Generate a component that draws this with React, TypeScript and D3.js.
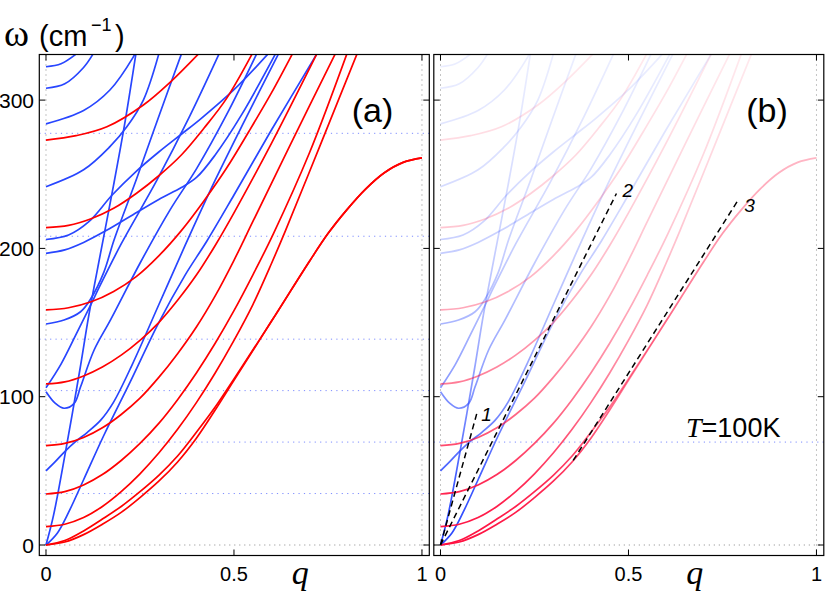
import React from 'react';
import * as d3 from 'd3';

type Pt = [number, number];

// branches, [q, omega (cm^-1)]
// red branches
const redAc1: Pt[] = [[0, 0], [0.05, 2], [0.1, 7], [0.15, 14], [0.2, 22], [0.25, 32], [0.3, 43], [0.35, 56], [0.4, 72], [0.45, 91], [0.5, 111], [0.6, 151], [0.7, 191], [0.75, 210], [0.8, 226], [0.85, 240], [0.9, 251], [0.95, 258], [1, 261]];
const redAc2: Pt[] = [[0, 0], [0.05, 3], [0.1, 9.5], [0.15, 17.5], [0.2, 26], [0.25, 36], [0.3, 47], [0.35, 60], [0.4, 76], [0.45, 93], [0.5, 112], [0.6, 151], [0.7, 191], [0.75, 210], [0.8, 226], [0.85, 240], [0.9, 251], [0.95, 258], [1, 261]];
const red12: Pt[] = [[0, 12.4], [0.05, 14], [0.1, 18.5], [0.15, 26], [0.2, 36], [0.25, 48], [0.3, 62], [0.35, 78], [0.4, 96], [0.45, 116], [0.5, 138], [0.55, 162], [0.6, 190], [0.637, 212], [0.73, 270], [0.827, 331]];
const red34: Pt[] = [[0, 34.4], [0.05, 36], [0.1, 40.5], [0.15, 47.5], [0.2, 57], [0.25, 68.5], [0.3, 82], [0.35, 98], [0.4, 116], [0.45, 136], [0.5, 158], [0.55, 182], [0.605, 210], [0.7, 264], [0.8, 331]];
const red67: Pt[] = [[0, 67], [0.05, 68.5], [0.1, 72.5], [0.15, 79], [0.2, 88], [0.25, 99], [0.3, 113], [0.35, 129], [0.4, 147], [0.45, 168], [0.5, 192], [0.55, 218], [0.65, 270], [0.769, 331]];
const red109: Pt[] = [[0, 108.6], [0.05, 110], [0.1, 114], [0.15, 120], [0.2, 128], [0.25, 138], [0.3, 150], [0.35, 165], [0.4, 182], [0.45, 202], [0.5, 224], [0.6, 271], [0.72, 331]];
const red158: Pt[] = [[0, 158.5], [0.06, 160], [0.12, 164], [0.18, 171], [0.24, 181], [0.3, 195], [0.36, 212], [0.42, 232], [0.48, 254], [0.54, 279], [0.6, 305], [0.655, 331]];
const red214: Pt[] = [[0, 214], [0.06, 215.5], [0.12, 220], [0.18, 227], [0.24, 237], [0.3, 249], [0.36, 263], [0.42, 281], [0.48, 301], [0.548, 331]];
const red273: Pt[] = [[0, 273], [0.08, 276], [0.162, 282], [0.259, 296.7], [0.33, 312], [0.405, 331]];

// blue branches
const blue322: Pt[] = [[0, 322.5], [0.04, 324.5], [0.08, 331]];
const blue308: Pt[] = [[0, 308], [0.05, 311], [0.1, 322], [0.125, 331]];
const blue284: Pt[] = [[0, 284], [0.1, 293], [0.17, 306.8], [0.232, 329], [0.24, 333]];
const blue241: Pt[] = [[0, 241.6], [0.1, 253], [0.17, 268.6], [0.215, 282], [0.259, 300], [0.3, 331]];
const blue206: Pt[] = [[0, 206], [0.06, 209], [0.114, 218], [0.176, 236], [0.24, 252], [0.3, 265], [0.36, 277], [0.41, 287], [0.5, 307], [0.59, 331]];
const blue196: Pt[] = [[0, 196.7], [0.05, 199], [0.1, 204], [0.16, 212], [0.22, 221], [0.3, 233], [0.36, 241], [0.401, 248], [0.45, 263], [0.52, 290], [0.61, 331]];
const blue149: Pt[] = [[0, 149], [0.048, 151.7], [0.092, 157.3], [0.119, 166], [0.154, 184], [0.181, 205.7], [0.241, 247], [0.3, 289], [0.36, 331]];
const blue106: Pt[] = [[0, 106], [0.04, 122], [0.08, 142], [0.119, 162], [0.144, 175], [0.2, 203], [0.295, 246], [0.38, 288], [0.46, 331]];
const blue103: Pt[] = [[0, 103.4], [0.025, 95.5], [0.048, 92.2], [0.075, 95.5], [0.092, 106.7], [0.128, 131.5], [0.172, 152], [0.25, 190], [0.33, 226], [0.401, 254], [0.48, 290], [0.56, 331]];
const blue50: Pt[] = [[0, 50], [0.024, 56], [0.05, 63], [0.08, 70], [0.11, 76], [0.145, 84], [0.179, 96], [0.23, 122], [0.3, 162], [0.37, 202], [0.45, 246], [0.53, 287], [0.618, 331]];
const blueAc1: Pt[] = [[0, 0], [0.02, 20], [0.052, 63], [0.09, 118], [0.114, 155], [0.146, 198], [0.18, 243], [0.21, 285], [0.239, 331]];
const blueAc2: Pt[] = [[0, 0], [0.03, 8], [0.06, 22], [0.1, 44], [0.154, 74], [0.224, 110], [0.3, 150], [0.37, 182], [0.428, 205], [0.5, 236], [0.6, 280], [0.72, 331]];

const redBranches = [redAc1, redAc2, red12, red34, red67, red109, red158, red214, red273];
const blueBranches = [blue322, blue308, blue284, blue241, blue206, blue196, blue149, blue106, blue103, blue50, blueAc1, blueAc2];

// asymptotes drawn in panel (b)
const asymptoteLabels = ['1', '2', '3'];
const asymptotes: Pt[][] = [
  [[0, 0], [0.098, 90]],
  [[0, 0], [0.468, 237]],
  [[0.353, 57], [0.789, 231.5]],
];

const qTicks = [0, 0.5, 1];
const qTickLabels = ['0', '0.5', '1'];
const wTicks = [0, 100, 200, 300];
const levelsA = [34.7, 69.4, 104.1, 138.8, 208.2, 277.6];
const levelsB = [69.4];

const RED = '#ff0000';
const BLUE = '#2846ff';
const SANS = '"Liberation Sans", Arial, Helvetica, sans-serif';
const SERIF = '"Liberation Serif", "Times New Roman", serif';

const frameTop = 54.5;
const frameBottom = 555.5;
const frameW = 390;
const qDomain: [number, number] = [-0.0178, 1.0195];
const wDomain: [number, number] = [-7.08, 330.75];

// opacity of the branches in (b) versus omega
const fadeStops: [number, number][] = [[0, 1], [40, 0.9], [80, 0.68], [120, 0.5], [170, 0.33], [220, 0.22], [280, 0.14], [331, 0.09]];
const labelOffsets: Pt[] = [[4, 9], [6, 3], [7, 10]];

function Panel({ left, tag, faded }: { left: number; tag: string; faded: boolean }) {
  const x = d3.scaleLinear().domain(qDomain).range([left, left + frameW]);
  const y = d3.scaleLinear().domain(wDomain).range([frameBottom, frameTop]);
  const line = d3.line<Pt>().x(d => x(d[0])).y(d => y(d[1])).curve(d3.curveCatmullRom.alpha(0.5));
  const right = left + frameW;
  const clipId = `clip-${tag}`;
  const levels = faded ? levelsB : levelsA;

  const gradient = (id: string, color: string) => (
    <linearGradient id={id} gradientUnits="userSpaceOnUse" x1={left} x2={left} y1={y(0)} y2={y(331)}>
      {fadeStops.map(([w, o]) => (
        <stop key={w} offset={w / 331} stopColor={color} stopOpacity={o} />
      ))}
    </linearGradient>
  );

  return (
    <g>
      <defs>
        <clipPath id={clipId}>
          <rect x={left} y={frameTop} width={frameW} height={frameBottom - frameTop} />
        </clipPath>
        {faded && gradient(`fade-red-${tag}`, '#ff1040')}
        {faded && gradient(`fade-blue-${tag}`, BLUE)}
      </defs>

      {/* dotted guides */}
      {[0, 1].map(q => (
        <line key={`v${q}`} x1={x(q)} x2={x(q)} y1={frameTop} y2={frameBottom}
          stroke="#888" strokeWidth={1} strokeDasharray="1,4" />
      ))}
      <line x1={left} x2={right} y1={y(0)} y2={y(0)} stroke="#888" strokeWidth={1} strokeDasharray="1,4" />
      {levels.map(w => (
        <line key={w} x1={left} x2={right} y1={y(w)} y2={y(w)}
          stroke="#7d8cff" strokeWidth={1} strokeDasharray="1.2,4.2" />
      ))}

      <g clipPath={`url(#${clipId})`} fill="none" strokeWidth={1.7}>
        {blueBranches.map((b, i) => (
          <path key={`b${i}`} d={line(b) ?? ''} stroke={faded ? `url(#fade-blue-${tag})` : BLUE} />
        ))}
        {redBranches.map((r, i) => (
          <path key={`r${i}`} d={line(r) ?? ''} stroke={faded ? `url(#fade-red-${tag})` : RED} />
        ))}
        {faded && asymptotes.map((a, i) => (
          <path key={`a${i}`} d={d3.line<Pt>().x(d => x(d[0])).y(d => y(d[1]))(a) ?? ''}
            stroke="#000" strokeWidth={1.5} strokeDasharray="6,4" />
        ))}
      </g>

      {faded && asymptotes.map((a, i) => (
        <text key={`al${i}`} x={x(a[1][0]) + labelOffsets[i][0]} y={y(a[1][1]) + labelOffsets[i][1]}
          fontFamily={SANS} fontStyle="italic" fontSize={19}>{asymptoteLabels[i]}</text>
      ))}

      {/* frame and ticks */}
      <rect x={left} y={frameTop} width={frameW} height={frameBottom - frameTop} fill="none" stroke="#000" strokeWidth={1.2} />
      {wTicks.map(w => (
        <g key={`wt${w}`} stroke="#000" strokeWidth={1}>
          <line x1={left} x2={left + 6} y1={y(w)} y2={y(w)} />
          <line x1={right - 6} x2={right} y1={y(w)} y2={y(w)} />
        </g>
      ))}
      {qTicks.map(q => (
        <g key={`qt${q}`} stroke="#000" strokeWidth={1}>
          <line x1={x(q)} x2={x(q)} y1={frameBottom} y2={frameBottom - 6} />
          <line x1={x(q)} x2={x(q)} y1={frameTop} y2={frameTop + 6} />
        </g>
      ))}
      {qTicks.map((q, i) => (
        <text key={`ql${q}`} x={x(q)} y={581} textAnchor="middle" fontFamily={SANS} fontSize={20}>{qTickLabels[i]}</text>
      ))}
      <text x={x(0.676)} y={584} textAnchor="middle" fontFamily={SERIF} fontStyle="italic" fontSize={34}>q</text>
      <text x={x(0.813)} y={122} fontFamily={SANS} fontSize={34}>{`(${tag})`}</text>
    </g>
  );
}

export default function App() {
  const y = d3.scaleLinear().domain(wDomain).range([frameBottom, frameTop]);
  return (
    <div style={{ position: 'absolute', left: 0, top: 0 }}>
      <svg width={830} height={601} viewBox="0 0 830 601" style={{ display: 'block', background: '#fff' }}>
        <Panel left={39.3} tag="a" faded={false} />
        <Panel left={433.8} tag="b" faded={true} />

        {wTicks.map(w => (
          <text key={w} x={34} y={y(w) + 7.5} textAnchor="end" fontFamily={SANS} fontSize={21}>{w}</text>
        ))}

        <text x={4} y={46} fontFamily={SERIF} fontSize={38}>ω</text>
        <text x={39} y={46} fontFamily={SANS} fontSize={29}>(cm</text>
        <text x={91} y={31} fontFamily={SANS} fontSize={18}>−1</text>
        <text x={115} y={46} fontFamily={SANS} fontSize={29}>)</text>

        <text x={686} y={437} fontFamily={SANS} fontSize={27}>
          <tspan fontFamily={SERIF} fontStyle="italic" fontSize={28}>T</tspan>=100K
        </text>
      </svg>
    </div>
  );
}
